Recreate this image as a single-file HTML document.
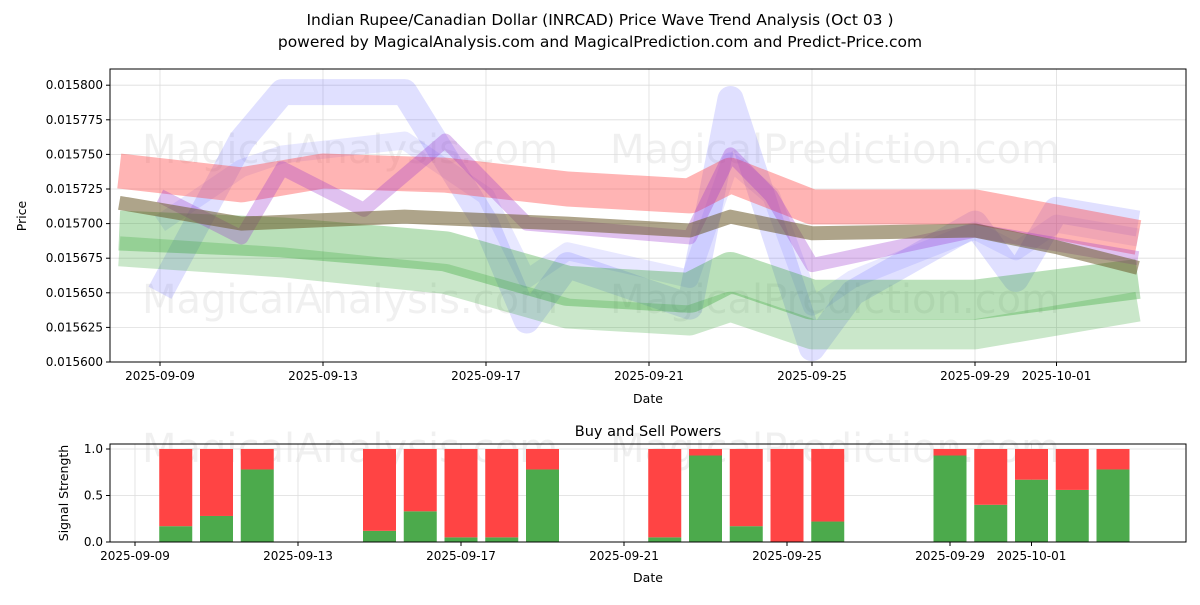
<!DOCTYPE html>
<html><head><meta charset="utf-8"><style>
body{margin:0;background:#fff;font-family:"Liberation Sans","DejaVu Sans",sans-serif;}
svg text{font-family:"DejaVu Sans","Liberation Sans",sans-serif;}
</style></head><body>
<svg id="c" width="1200" height="600" xmlns="http://www.w3.org/2000/svg">
<text x="600" y="25" text-anchor="middle" font-size="15.5">Indian Rupee/Canadian Dollar (INRCAD) Price Wave Trend Analysis (Oct 03 )</text>
<text x="600" y="47" text-anchor="middle" font-size="15.5">powered by MagicalAnalysis.com and MagicalPrediction.com and Predict-Price.com</text>
<g id="topPanel"></g>
<g id="botPanel"></g>
</svg>
<script>
const ns="http://www.w3.org/2000/svg";
const priceTicks=[0.0156,0.015625,0.01565,0.015675,0.0157,0.015725,0.01575,0.015775,0.0158];
const dateTicks=["2025-09-09","2025-09-13","2025-09-17","2025-09-21","2025-09-25","2025-09-29","2025-10-01"];
const redDays=[0,3,5,8,11,14,15,17,21,25];
const redVals=[0.015738,0.015728,0.015738,0.015735,0.015725,0.015720,0.015735,0.015712,0.015712,0.015690];
const brownDays=[0,3,7,11,14,15,17,21,23,25];
const brownVals=[0.015715,0.015700,0.015705,0.015700,0.015695,0.015705,0.015693,0.015695,0.015683,0.015668];
const greenDays=[0,4,8,11,14,15,17,21,25];
const greenVals=[0.015695,0.015690,0.015680,0.015655,0.015650,0.015665,0.015645,0.015645,0.015660];
const green2Vals=[0.015680,0.015672,0.015660,0.015635,0.015630,0.015640,0.015620,0.015620,0.015640];
const blueDays=[1,3,4,7,9,10,11,14,15,16,17,18,21,22,23,25];
const blueVals=[0.015650,0.015760,0.015795,0.015795,0.015700,0.015630,0.015670,0.015640,0.015790,0.015700,0.015610,0.015650,0.015700,0.015660,0.015710,0.015700];
const blue2Vals=[0.015700,0.015740,0.015750,0.015760,0.015720,0.015660,0.015680,0.015660,0.015745,0.015720,0.015640,0.015660,0.015695,0.015680,0.015700,0.015690];
const purpleDays=[1,3,4,6,8,10,14,15,16,17,21,25];
const purpleVals=[0.015720,0.015690,0.015740,0.015710,0.015760,0.015700,0.015690,0.015750,0.015720,0.015670,0.015695,0.015675];
const barDays=[2,3,4,7,8,9,10,11,14,15,16,17,18,21,22,23,24,25];
const buyVals=[0.17,0.28,0.78,0.12,0.33,0.05,0.05,0.78,0.05,0.93,0.17,0.0,0.22,0.93,0.40,0.67,0.56,0.78];
const sigTicks=[0,0.5,1.0];

function el(p,t,a,txt){const e=document.createElementNS(ns,t);for(const k in a)e.setAttribute(k,a[k]);if(txt!==undefined)e.textContent=txt;p.appendChild(e);return e;}
const topG=document.getElementById('topPanel'),botG=document.getElementById('botPanel');
const L=110,R=1186,T1=69,B1=362,T2=444,B2=542;
const xT=d=>160+(d-1)*40.75;
const yT=v=>362-(v-0.0156)/0.000025*34.6;
const xB=d=>135+(d-1)*40.75;
const yB=v=>542-v*93;
function dayOf(s){const d=new Date(s+"T00:00:00Z");return (d-new Date("2025-09-08T00:00:00Z"))/86400000;}

[[350,163],[835,163],[350,313],[835,313]].forEach(p=>{const w=el(topG,'text',{x:p[0],y:p[1],'text-anchor':'middle','font-size':40,fill:'#000','fill-opacity':0.06},p[0]<600?'MagicalAnalysis.com':'MagicalPrediction.com');
});
priceTicks.forEach(v=>{const y=yT(v);el(topG,'line',{x1:L,x2:R,y1:y,y2:y,stroke:'#ddd','stroke-width':0.8});
el(topG,'line',{x1:L-4,x2:L,y1:y,y2:y,stroke:'#000'});
const t=el(topG,'text',{x:L-7,y:y+4,'text-anchor':'end','font-size':12},v.toFixed(6));
});
dateTicks.forEach(s=>{const x=xT(dayOf(s));el(topG,'line',{x1:x,x2:x,y1:T1,y2:B1,stroke:'#ddd','stroke-width':0.8});
el(topG,'line',{x1:x,x2:x,y1:B1,y2:B1+4,stroke:'#000'});
const t=el(topG,'text',{x:x,y:B1+18,'text-anchor':'middle','font-size':12},s);
});
function band(days,vals,color,w,op,name){
 const pts=days.map((d,i)=>xT(d)+','+yT(vals[i])).join(' ');
 const p=el(topG,'polyline',{points:pts,fill:'none',stroke:color,'stroke-width':w,'stroke-opacity':op,'stroke-linejoin':'round'});
 
}
band(blueDays,blueVals,'#6666ff',26,0.2,'blue-wave');
band(blueDays,blue2Vals,'#6666ff',18,0.15,'blue-wave-2');
band(greenDays,green2Vals,'#2ca02c',30,0.25,'green-band-2');
band(greenDays,greenVals,'#2ca02c',40,0.33,'green-band');
band(redDays,redVals,'#ff4444',35,0.4,'red-band');
band(purpleDays,purpleVals,'#9933cc',14,0.3,'purple-wave');
band(brownDays,brownVals,'#6b5a2a',14,0.55,'trend-line');
const f1=el(topG,'rect',{x:L,y:T1,width:R-L,height:B1-T1,fill:'none',stroke:'#000'});

const xl=el(topG,'text',{x:648,y:403,'text-anchor':'middle','font-size':12.5},'Date');

const yl=el(topG,'text',{x:26,y:216,'text-anchor':'middle','font-size':12.5,transform:'rotate(-90 26 216)'},'Price');


[[350,462],[835,462]].forEach(p=>{const w=el(botG,'text',{x:p[0],y:p[1],'text-anchor':'middle','font-size':40,fill:'#000','fill-opacity':0.06},p[0]<600?'MagicalAnalysis.com':'MagicalPrediction.com');
});
sigTicks.forEach(v=>{const y=yB(v);el(botG,'line',{x1:L,x2:R,y1:y,y2:y,stroke:'#ddd','stroke-width':0.8});
el(botG,'line',{x1:L-4,x2:L,y1:y,y2:y,stroke:'#000'});
const t=el(botG,'text',{x:L-7,y:y+4,'text-anchor':'end','font-size':12},v.toFixed(1));
});
dateTicks.forEach(s=>{const x=xB(dayOf(s));el(botG,'line',{x1:x,x2:x,y1:T2,y2:B2,stroke:'#ddd','stroke-width':0.8});
el(botG,'line',{x1:x,x2:x,y1:B2,y2:B2+4,stroke:'#000'});
const t=el(botG,'text',{x:x,y:B2+18,'text-anchor':'middle','font-size':12},s);
});
barDays.forEach((d,i)=>{const x=xB(d)-16.5;
 const g=el(botG,'rect',{x:x,y:yB(buyVals[i]),width:33,height:yB(0)-yB(buyVals[i]),fill:'#4caa4c'});
 
 const r=el(botG,'rect',{x:x,y:yB(1),width:33,height:yB(buyVals[i])-yB(1),fill:'#ff4444'});
 });
const f2=el(botG,'rect',{x:L,y:T2,width:R-L,height:B2-T2,fill:'none',stroke:'#000'});

const bt=el(botG,'text',{x:648,y:436,'text-anchor':'middle','font-size':14.5},'Buy and Sell Powers');

const bx=el(botG,'text',{x:648,y:582,'text-anchor':'middle','font-size':12.5},'Date');

const by=el(botG,'text',{x:68,y:493,'text-anchor':'middle','font-size':12.5,transform:'rotate(-90 68 493)'},'Signal Strength');

</script>
</body></html>
